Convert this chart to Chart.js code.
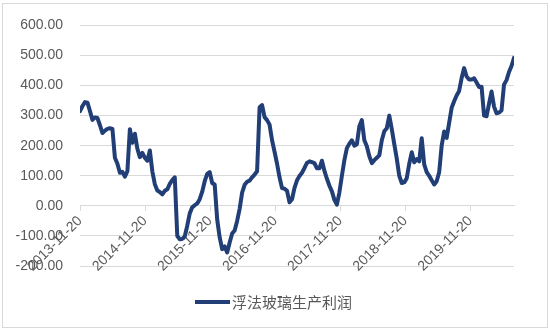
<!DOCTYPE html>
<html>
<head>
<meta charset="utf-8">
<script src="https://cdn.jsdelivr.net/npm/chart.js@4.4.1/dist/chart.umd.min.js"></script>
<style>
    html, body { margin: 0; padding: 0; background: #fff; }
    #wrap { width: 550px; height: 333px; }
</style>
</head>
<body>
<div id="wrap"><canvas id="profitChart" width="550" height="333"></canvas></div>
<script>
// series sampled every two weeks starting from the first date
const startDate = '2013-11-20';
const stepDays = 14;
const seriesName = '浮法玻璃生产利润';
const tickLabels = ['2013-11-20', '2014-11-20', '2015-11-20', '2016-11-20', '2017-11-20', '2018-11-20', '2019-11-20'];
const profit = [
    315, 332, 345, 343, 315, 286, 294, 292, 268, 242,
    250, 256, 258, 256, 160, 140, 110, 113, 97, 115,
    255, 210, 240, 190, 162, 176, 160, 150, 184, 115,
    72, 51, 46, 38, 50, 55, 73, 86, 95, -100,
    -111, -110, -102, -66, -25, -5, 2, 8, 22, 47,
    82, 106, 112, 76, 71, -45, -105, -144, -135, -155,
    -122, -92, -82, -50, -10, 44, 70, 80, 84, 95,
    104, 115, 328, 335, 295, 285, 270, 218, 180, 140,
    95, 59, 57, 50, 12, 22, 60, 85, 99, 110,
    126, 143, 148, 145, 142, 125, 125, 150, 116, 90,
    67, 48, 20, 4, 45, 100, 152, 192, 207, 218,
    200, 205, 265, 285, 218, 198, 165, 142, 152, 160,
    168, 218, 248, 258, 300, 255, 205, 157, 100, 76,
    78, 92, 140, 178, 145, 155, 148, 225, 138, 112,
    100, 85, 71, 82, 112, 200, 247, 226, 276, 326,
    348, 367, 382, 425, 458, 430, 420, 420, 424, 410,
    395, 396, 300, 298, 340, 380, 330, 308, 310, 318,
    403, 418, 445, 465, 492
];
const yMin = -200;
const yMax = 600;
const yStep = 100;

const dayMs = 86400000;
const tickDays = tickLabels.map(d => (Date.parse(d) - Date.parse(startDate)) / dayMs);
const points = profit.map((v, i) => ({ x: i * stepDays, y: v }));

const lineColor = '#213e76';
const textColor = '#595959';
const gridColor = '#d9d9d9';
const fontFamily = '"Liberation Sans", Arial, sans-serif';

// white background, outer frame and the legend underneath
const framePlugin = {
    id: 'frame',
    beforeDraw(chart) {
        const ctx = chart.ctx;
        ctx.save();
        ctx.fillStyle = '#fff';
        ctx.fillRect(0, 0, chart.width, chart.height);
        ctx.strokeStyle = gridColor;
        ctx.lineWidth = 1;
        ctx.strokeRect(2.5, 3.5, 545, 324);
        ctx.restore();
    },
    afterDraw(chart) {
        const ctx = chart.ctx;
        ctx.save();
        ctx.strokeStyle = lineColor;
        ctx.lineWidth = 4;
        ctx.beginPath();
        ctx.moveTo(195, 302);
        ctx.lineTo(230, 302);
        ctx.stroke();
        ctx.fillStyle = textColor;
        ctx.font = '15px "Noto Sans CJK SC", sans-serif';
        ctx.textBaseline = 'middle';
        ctx.fillText(seriesName, 232, 302);
        ctx.restore();
    }
};

const ctx = document.getElementById('profitChart').getContext('2d');
new Chart(ctx, {
    type: 'line',
    data: {
        datasets: [{
            label: seriesName,
            data: points,
            borderColor: lineColor,
            borderWidth: 4,
            borderJoinStyle: 'round',
            borderCapStyle: 'round',
            pointRadius: 0,
            tension: 0,
            fill: false
        }]
    },
    options: {
        responsive: false,
        animation: false,
        devicePixelRatio: 1,
        layout: { padding: { left: 0, top: 22, right: 36, bottom: 67 } },
        plugins: {
            legend: { display: false },
            tooltip: { enabled: false }
        },
        scales: {
            x: {
                type: 'linear',
                position: { y: 0 },
                min: 0,
                max: (profit.length - 1) * stepDays,
                afterBuildTicks: scale => {
                    scale.ticks = tickDays.map(v => ({ value: v }));
                },
                ticks: {
                    autoSkip: false,
                    minRotation: 45,
                    maxRotation: 45,
                    padding: 2,
                    color: textColor,
                    font: { family: fontFamily, size: 14 },
                    callback: (value, index) => tickLabels[index]
                },
                grid: { drawOnChartArea: false, drawTicks: true, tickLength: 5, color: gridColor },
                border: { color: gridColor }
            },
            y: {
                min: yMin,
                max: yMax,
                afterFit: scale => { scale.width = 80; },
                ticks: {
                    stepSize: yStep,
                    padding: 17,
                    color: textColor,
                    font: { family: fontFamily, size: 14 },
                    callback: v => v.toFixed(2)
                },
                grid: { color: gridColor, drawTicks: false },
                border: { display: false }
            }
        }
    },
    plugins: [framePlugin]
});
</script>
</body>
</html>
